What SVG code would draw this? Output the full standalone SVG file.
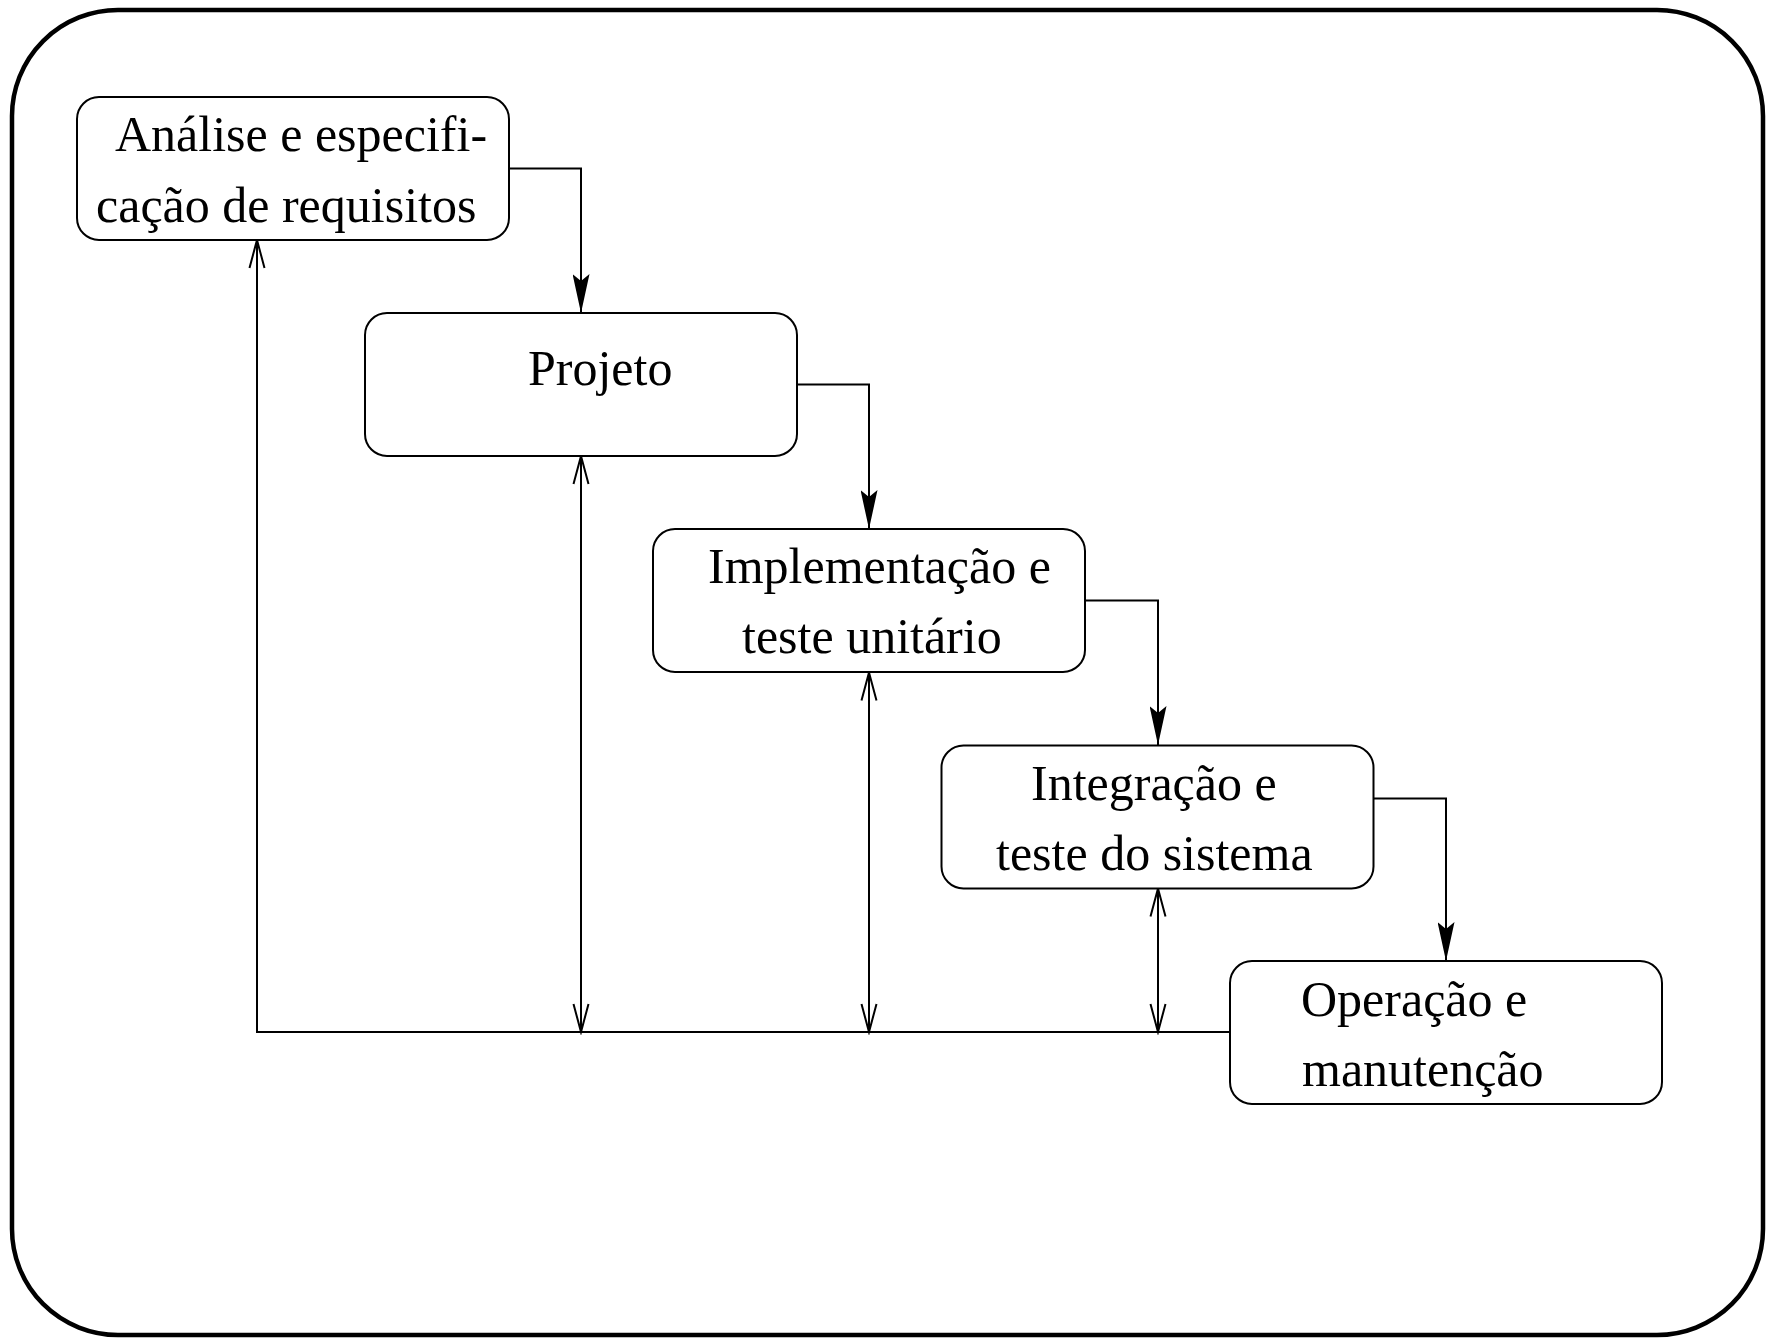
<svg xmlns="http://www.w3.org/2000/svg" width="1766" height="1338" viewBox="0 0 1766 1338">
  <style>
    .frame { fill: none; stroke: #000; stroke-width: 4.5; }
    .box { fill: #fff; stroke: #000; stroke-width: 2; }
    .label { font-family: "Liberation Serif", "Times New Roman", serif; font-size: 50px; fill: #000; }
    .flow { fill: none; stroke: #000; stroke-width: 2; }
    .back { fill: none; stroke: #000; stroke-width: 2; }
  </style>
  <defs>
    <!-- solid arrowhead with indented back, for the forward flow -->
    <marker id="arrow-solid" viewBox="0 0 40 17" refX="39" refY="8.5" markerWidth="40" markerHeight="17" markerUnits="userSpaceOnUse" orient="auto">
      <path d="M39,8.5 L0,0 L7,8.5 L0,17 Z" fill="#000"/>
    </marker>
    <!-- open V arrowhead, for the feedback lines -->
    <marker id="arrow-open" viewBox="-2 -2 33 20" refX="28" refY="7.5" markerWidth="33" markerHeight="20" markerUnits="userSpaceOnUse" orient="auto-start-reverse">
      <path d="M0,0 L28,7.5 L0,15" fill="none" stroke="#000" stroke-width="2"/>
    </marker>
  </defs>

  <rect width="1766" height="1338" fill="#fff"/>

  <!-- outer rounded frame -->
  <rect class="frame" x="12" y="10" width="1751" height="1325" rx="106" ry="106"/>

  <!-- connectors -->
  <g id="connectors">
    <!-- forward flow between phases -->
    <path class="flow" d="M509,168.5 H581 V313" marker-end="url(#arrow-solid)"/>
    <path class="flow" d="M797,384.5 H869 V529" marker-end="url(#arrow-solid)"/>
    <path class="flow" d="M1085,600.5 H1158 V745" marker-end="url(#arrow-solid)"/>
    <path class="flow" d="M1373,798.5 H1446 V961" marker-end="url(#arrow-solid)"/>
    <!-- feedback line from operation back to every earlier phase -->
    <path class="back" d="M1230,1032 H257 V240" marker-end="url(#arrow-open)"/>
    <line class="back" x1="581" y1="456" x2="581" y2="1032" marker-start="url(#arrow-open)" marker-end="url(#arrow-open)"/>
    <line class="back" x1="869" y1="672.5" x2="869" y2="1032" marker-start="url(#arrow-open)" marker-end="url(#arrow-open)"/>
    <line class="back" x1="1158" y1="888.5" x2="1158" y2="1032" marker-start="url(#arrow-open)" marker-end="url(#arrow-open)"/>
  </g>

  <!-- phases -->
  <g id="analise">
    <rect class="box" x="77" y="97" width="432" height="143" rx="22" ry="22"/>
    <text class="label" x="115" y="151">Análise e especifi-</text>
    <text class="label" x="96" y="222">cação de requisitos</text>
  </g>
  <g id="projeto">
    <rect class="box" x="365" y="313" width="432" height="143" rx="22" ry="22"/>
    <text class="label" x="528" y="385">Projeto</text>
  </g>
  <g id="implementacao">
    <rect class="box" x="653" y="529" width="432" height="143" rx="22" ry="22"/>
    <text class="label" x="708" y="583">Implementação e</text>
    <text class="label" x="742" y="653">teste unitário</text>
  </g>
  <g id="integracao">
    <rect class="box" x="941.5" y="745.5" width="432" height="143" rx="22" ry="22"/>
    <text class="label" x="1031" y="800">Integração e</text>
    <text class="label" x="996" y="870">teste do sistema</text>
  </g>
  <g id="operacao">
    <rect class="box" x="1230" y="961" width="432" height="143" rx="22" ry="22"/>
    <text class="label" x="1301" y="1016">Operação e</text>
    <text class="label" x="1302" y="1086">manutenção</text>
  </g>
</svg>
